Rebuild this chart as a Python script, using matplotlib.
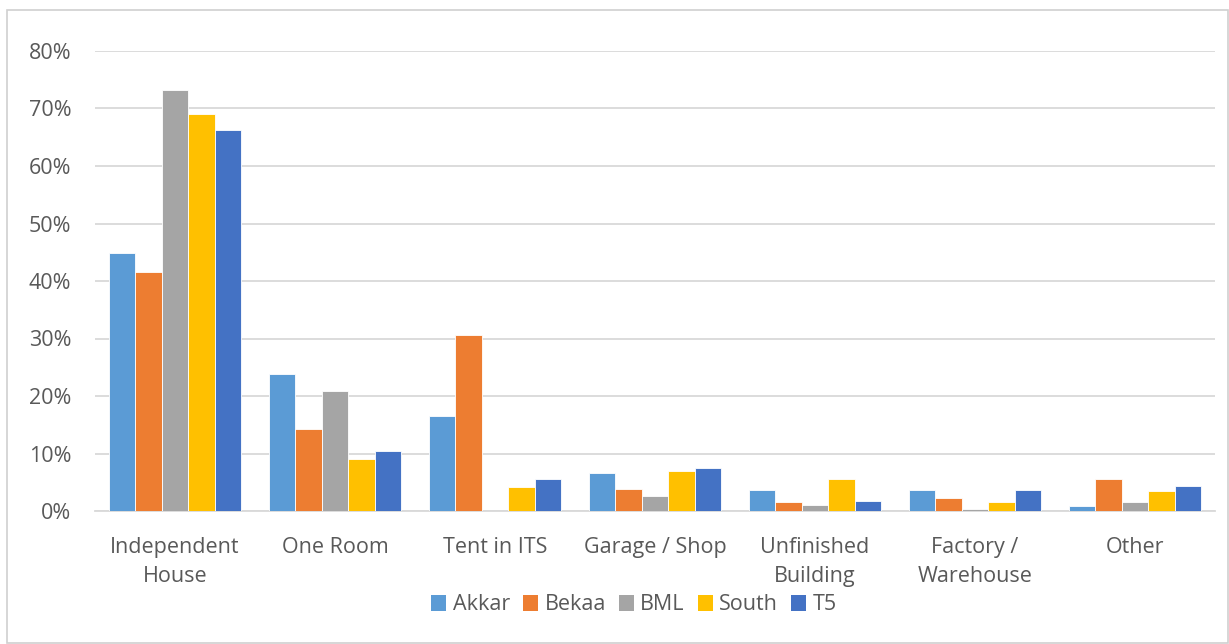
import matplotlib
matplotlib.use('Agg')
import matplotlib.pyplot as plt
import matplotlib.patches as mpatches
import numpy as np

plt.rcParams['font.family'] = ['Open Sans', 'DejaVu Sans']

categories = ['Independent\nHouse', 'One Room', 'Tent in ITS', 'Garage / Shop',
              'Unfinished\nBuilding', 'Factory /\nWarehouse', 'Other']
series = ['Akkar', 'Bekaa', 'BML', 'South', 'T5']
colors = ['#5B9BD5', '#ED7D31', '#A5A5A5', '#FFC000', '#4472C4']

akkar = [44.8, 23.8, 16.5, 6.6, 3.7, 3.7, 0.8]
bekaa = [41.5, 14.3, 30.6, 3.9, 1.6, 2.3, 5.6]
bml   = [73.3, 20.9, 0.0, 2.6, 1.0, 0.3, 1.6]
south = [69.0, 9.0, 4.2, 6.9, 5.6, 1.6, 3.4]
t5    = [66.3, 10.4, 5.5, 7.5, 1.8, 3.7, 4.3]
values = [akkar, bekaa, bml, south, t5]

TXT = '#595959'
GRID = '#D9D9D9'

fig = plt.figure(figsize=(12.29, 6.44), dpi=100)
fig.patch.set_facecolor('white')
ax = fig.add_axes([95/1229, 1-511/644, (1215-95)/1229, (511-51)/644])

x = np.arange(len(categories))
w = 0.165
for i, (name, vals, c) in enumerate(zip(series, values, colors)):
    ax.bar(x + (i-2)*w, np.array(vals)/100, width=w, color=c, label=name,
           edgecolor='white', linewidth=0.6, zorder=3)

ax.set_ylim(0, 0.8)
ax.set_xlim(-0.5, len(categories)-0.5)
ax.set_yticks(np.arange(0, 0.81, 0.1))
ax.set_yticklabels([f'{int(round(v*100))}%' for v in np.arange(0, 0.81, 0.1)])
ax.set_xticks(x)
ax.set_xticklabels(categories, linespacing=1.45)
ax.tick_params(axis='both', length=0, labelsize=15.5, colors=TXT)
ax.tick_params(axis='y', pad=17)
ax.tick_params(axis='x', pad=19)
ax.grid(axis='y', color=GRID, linewidth=1.3, zorder=0)
for s in ['top', 'right', 'left']:
    ax.spines[s].set_visible(False)
ax.spines['bottom'].set_color(GRID)
ax.spines['bottom'].set_linewidth(1.3)

handles = [mpatches.Patch(facecolor=c, label=n) for n, c in zip(series, colors)]
leg = fig.legend(handles=handles, loc='center', bbox_to_anchor=(634/1229, 1-605/644),
                 ncol=5, frameon=False, fontsize=15.5, handlelength=0.7,
                 handleheight=0.7, handletextpad=0.3, columnspacing=0.6)
for t in leg.get_texts():
    t.set_color(TXT)

fig.add_artist(mpatches.Rectangle((7/1229, 1/644), 1-8/1229, 1-11/644,
                                  transform=fig.transFigure, fill=False,
                                  edgecolor='#D0D0D0', linewidth=1.2))

fig.savefig('out.png', dpi=100, facecolor='white')
